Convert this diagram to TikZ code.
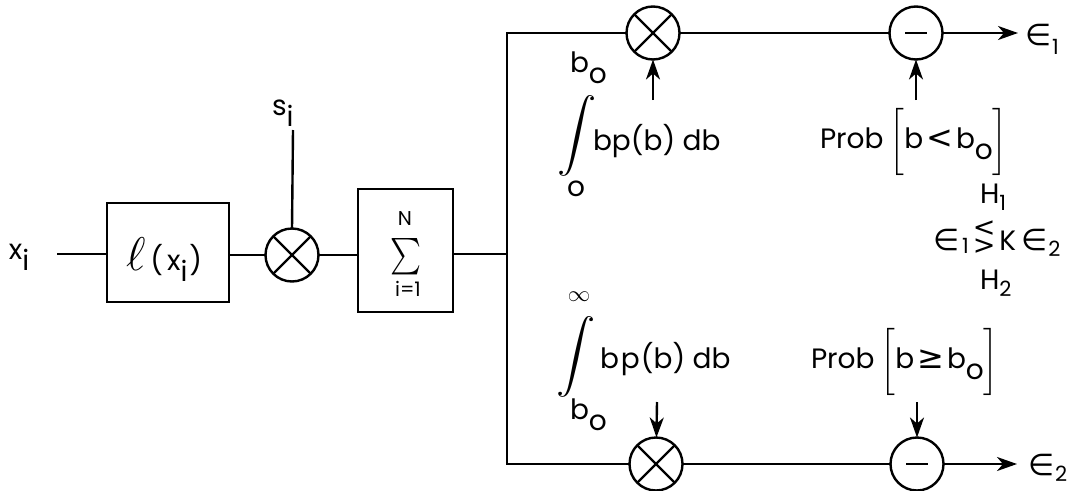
\documentclass[tikz,border=0pt]{standalone}
\usepackage{fontspec}
\setmainfont{Poppins}
\newfontfamily\djv{DejaVu Sans}
\usepackage{amssymb}
\usetikzlibrary{arrows.meta}
\newcommand\dn[1]{\raisebox{-0.4em}{#1}}
\newcommand\sdn[2]{\raisebox{-#1}{\fontsize{21}{21}\selectfont #2}}
\newcommand\eps{{\djv\fontsize{30}{30}\selectfont ∈}}
\newcommand\rel[1]{{\djv\fontsize{32}{32}\selectfont #1}}
\newcommand\relb[1]{{\djv\fontsize{27}{27}\selectfont #1}}
\newcommand\lessgreat{\rlap{\raisebox{14pt}{\relb{<}}}\raisebox{-4pt}{\relb{>}}}
\begin{document}
\begin{tikzpicture}[x=1pt,y=-1pt,
  every node/.style={font=\fontsize{28}{32}\selectfont, inner sep=0pt, outer sep=0pt},
  ln/.style={line width=2.4pt},
  blk/.style={draw, rectangle, line width=2.4pt},
  mult/.style={draw, circle, line width=2.4pt, minimum size=53pt,
    path picture={\draw[line width=2.4pt]
      (path picture bounding box.north east)--(path picture bounding box.south west)
      (path picture bounding box.north west)--(path picture bounding box.south east);}},
  subt/.style={draw, circle, line width=2.4pt, minimum size=53pt,
    path picture={\draw[line width=2.6pt]
      ([xshift=-11pt]path picture bounding box.center)--([xshift=11pt]path picture bounding box.center);}},
  arr/.style={line width=2.4pt, -{Stealth[length=20pt,width=14pt,inset=6pt]}},
]
\useasboundingbox (0,0) rectangle (1081,490);

% left part
\node[anchor=base west] (xi) at (9,259) {x\dn{i}};
\coordinate (xin) at (57,254);
\node[blk, minimum width=122pt, minimum height=99pt] (L) at (168,252.5) {};
\node[anchor=base west] (Lt) at (126,270) {\scalebox{1.9}{$\ell$}\kern5pt(\kern4pt x\dn{i}\kern2pt)};
\node[mult] (M1) at (292,255) {};
\node[anchor=base west] (si) at (272,115) {s\dn{i}};
\coordinate (sin) at (293,130);
\node[blk, minimum width=95pt, minimum height=123pt] (S) at (405.5,250.5) {};
\node (sN) at (405,219) {\fontsize{20}{20}\selectfont N};
\node (sS) at (406,257) {\scalebox{1.05}[1.3]{$\sum$}};
\node (sI) at (408,289) {\fontsize{20}{20}\selectfont i=1};

\draw[ln] (xin) -- (xin -| L.west);
\draw[ln] (L.east |- M1.west) -- (M1.west);
\draw[ln] (sin) -- (M1.north);
\draw[ln] (M1.east) -- (M1.east -| S.west);

% junction
\coordinate (jt) at (507,33);
\coordinate (jm) at (507,254);
\coordinate (jb) at (507,464);
\draw[ln] (S.east |- jm) -- (jm);

% circles
\node[mult] (M2) at (653,33) {};
\node[subt] (S1) at (916,33) {};
\node[mult] (M3) at (656,464) {};
\node[subt] (S2) at (917,464) {};
\draw[ln, line join=miter] (M2.west) -- (jt) -- (jb) -- (M3.west);

% top branch
\coordinate (e1end) at (1018,33);
\node[anchor=base west] (eps1) at (1025,45) {\eps\kern1pt\sdn{9pt}{1}};
\draw[ln] (M2) -- (S1);
\draw[arr] (S1) -- (e1end);
\coordinate (a1) at (653,100);
\coordinate (a2) at (916,100);
\draw[arr] (a1) -- (M2);
\draw[arr] (a2) -- (S1);

\node (int1) at (577,136) {\scalebox{1.4}[1.3]{$\displaystyle\int$}};
\node[anchor=base west] (int1u) at (570,72) {b\dn{o}};
\node (int1l) at (576,189) {o};
\node[anchor=base west] (f1) at (593,150) {bp(b) db};
\node[anchor=base west] (p1) at (820,148) {Prob\kern6pt$\left[\rule[-21pt]{0pt}{56pt}\mbox{b\kern3pt\rel{<}\kern3pt b\dn{o}}\right]$};

% decision rule
\node[anchor=base west] (H1) at (980,203) {H\sdn{7pt}{1}};
\node[anchor=base west] (rule) at (933,250) {\eps\kern3pt\sdn{3pt}{1}\kern4pt\lessgreat\kern4pt K\kern5pt\eps\kern1pt\sdn{6pt}{2}};
\node[anchor=base west] (H2) at (980,289) {H\sdn{7pt}{2}};

% bottom branch
\coordinate (e2end) at (1017,464);
\node[anchor=base west] (eps2) at (1028,475) {\eps\kern1pt\sdn{6pt}{2}};
\draw[ln] (M3) -- (S2);
\draw[arr] (S2) -- (e2end);
\coordinate (a3) at (657,402);
\coordinate (a4) at (917,402);
\draw[arr] (a3) -- (M3);
\draw[arr] (a4) -- (S2);

\node (int2) at (576,357) {\scalebox{1.4}[1.3]{$\displaystyle\int$}};
\node (int2u) at (579,297) {\scalebox{0.9}{$\infty$}};
\node[anchor=base west] (int2l) at (570,419) {b\dn{o}};
\node[anchor=base west] (f2) at (600,368) {b\kern2pt p\kern1pt (b) db};
\node[anchor=base west] (p2) at (811,368) {Prob\kern6pt$\left[\rule[-21pt]{0pt}{56pt}\mbox{b\kern3pt\rel{≥}\kern3pt b\dn{o}}\right]$};
\end{tikzpicture}
\end{document}
